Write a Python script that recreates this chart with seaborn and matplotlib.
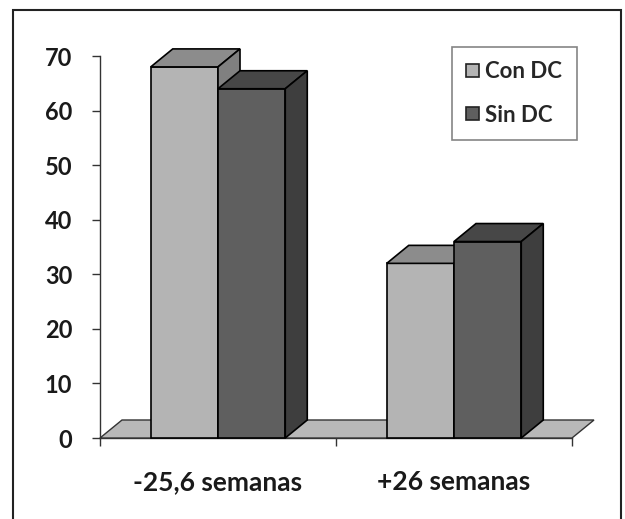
import numpy as np
import pandas as pd
import matplotlib; matplotlib.use("Agg")
import matplotlib.pyplot as plt
from matplotlib.patches import Polygon, Rectangle
import seaborn as sns

GROUPS  = ["-25,6 semanas", "+26 semanas"]
SERIES  = ["Con DC", "Sin DC"]
CON_DC  = [68, 32]
SIN_DC  = [64, 36]
YTICKS  = [0, 10, 20, 30, 40, 50, 60, 70]

FRONT = {"Con DC": "#b4b4b4", "Sin DC": "#5f5f5f"}
TOP   = {"Con DC": "#8c8c8c", "Sin DC": "#474747"}
SIDE  = {"Con DC": "#808080", "Sin DC": "#3e3e3e"}
ZORD  = {"Con DC": 3, "Sin DC": 5}

df = pd.DataFrame({
    "grupo": GROUPS * 2,
    "serie": [SERIES[0]] * 2 + [SERIES[1]] * 2,
    "valor": CON_DC + SIN_DC,
})

sns.set_style("white")
plt.rcParams["font.family"] = ["Lato", "DejaVu Sans"]
plt.rcParams["font.weight"] = "bold"

W, H = 625, 519
fig = plt.figure(figsize=(W / 100, H / 100), dpi=100)
ax = fig.add_axes([100 / W, (H - 438) / H, 472 / W, 382 / H])

sns.barplot(data=df, x="grupo", y="valor", hue="serie", order=GROUPS,
            hue_order=SERIES, palette=[FRONT[s] for s in SERIES],
            width=0.57, edgecolor="black", linewidth=1.2, saturation=1,
            ax=ax)

ax.set_xlim(-0.5, 1.5)
ax.set_ylim(0, 70)

# depth offsets of the fake 3d look (pixels -> data)
DX = 22 / 472 * 2.0
DY = 18 / 382 * 70

# floor
x0, x1 = ax.get_xlim()
ax.add_patch(Polygon([(x0, 0), (x1, 0), (x1 + DX, DY), (x0 + DX, DY)],
                     closed=True, fc="#b8b8b8", ec="#333333", lw=1,
                     zorder=1, clip_on=False))

for p in list(ax.patches):
    if not isinstance(p, Rectangle) or p.get_width() <= 0:
        continue  # skip legend dummies and the floor
    fc = matplotlib.colors.to_hex(p.get_facecolor())
    s = "Con DC" if fc == FRONT["Con DC"] else "Sin DC"
    bx, bw, bh = p.get_x(), p.get_width(), p.get_height()
    p.set_zorder(ZORD[s])
    p.set_clip_on(False)
    top = [(bx, bh), (bx + bw, bh), (bx + bw + DX, bh + DY), (bx + DX, bh + DY)]
    side = [(bx + bw, 0), (bx + bw + DX, DY), (bx + bw + DX, bh + DY), (bx + bw, bh)]
    ax.add_patch(Polygon(top, closed=True, fc=TOP[s], ec="black", lw=1.2,
                         zorder=ZORD[s], clip_on=False))
    ax.add_patch(Polygon(side, closed=True, fc=SIDE[s], ec="black", lw=1.2,
                         zorder=ZORD[s], clip_on=False))

ax.set_xlabel("")
ax.set_ylabel("")
ax.set_yticks(YTICKS)
ax.set_yticklabels([str(v) for v in YTICKS])
ax.set_xticks([0, 1])
ax.set_xticklabels(GROUPS)
ax.set_xticks([-0.5, 0.5, 1.5], minor=True)
ax.tick_params(axis="x", which="major", length=0, pad=23, labelsize=19)
ax.tick_params(axis="x", which="minor", length=6, width=1, color="#333333",
               direction="out", bottom=True)
ax.tick_params(axis="y", length=6, width=1, color="#333333", direction="out",
               left=True, pad=14, labelsize=17)
for t in ax.get_xticklabels() + ax.get_yticklabels():
    t.set_fontweight("bold")
    t.set_color("#1a1a1a")

sns.despine(ax=ax)
for sp in ["left", "bottom"]:
    ax.spines[sp].set_color("#333333")
    ax.spines[sp].set_linewidth(1)
    ax.spines[sp].set_zorder(0.5)

sns.move_legend(ax, loc="upper left", bbox_to_anchor=(452 / W, 1 - 47 / H),
                bbox_transform=fig.transFigure, title=None, frameon=True,
                fancybox=False, edgecolor="#666666", fontsize=16,
                handlelength=0.55, handleheight=0.55, handletextpad=0.3,
                labelspacing=1.0, borderpad=0.65, borderaxespad=0)
leg = ax.get_legend()
leg.get_frame().set_linewidth(1.2)
for t in leg.get_texts():
    t.set_fontweight("bold")
for h in leg.legend_handles:
    h.set_edgecolor("#222222")

fig.patches.append(Rectangle((13 / W, -0.02), (621 - 13) / W, 1 - 10 / H + 0.02,
                             transform=fig.transFigure, fill=False,
                             ec="#222222", lw=1.5, zorder=10))

fig.savefig("out.png", dpi=100)
